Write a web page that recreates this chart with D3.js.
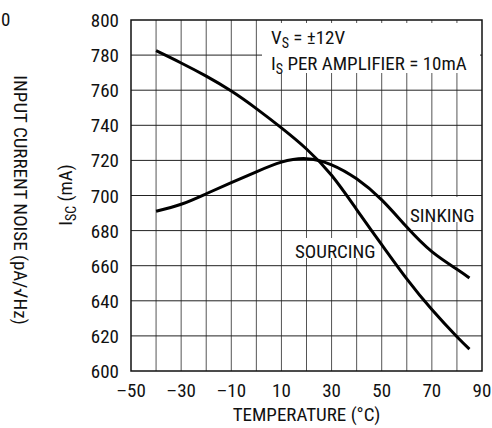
<!DOCTYPE html>
<html>
<head>
<meta charset="utf-8">
<script src="https://cdn.jsdelivr.net/npm/d3@7"></script>
<style>
  body { margin: 0; background: #fff; }
  svg text { font-family: "Liberation Sans Narrow", "Roboto Condensed", "Arial Narrow", sans-serif; fill: #111; }
</style>
</head>
<body>
<div id="chart"></div>
<script>
// temperature (°C) and short-circuit current (mA)
const sourcingTemp = [-40, -30, -20, -10, 0, 10, 20, 30, 40, 50, 60, 70, 80, 85];
const sourcingIsc  = [782.5, 775.5, 768, 759.5, 749.5, 738.5, 726.5, 711.5, 692, 672, 652.5, 635, 619.5, 612.5];
const sinkingTemp  = [-40, -30, -20, -10, 0, 10, 20, 30, 40, 50, 60, 70, 80, 85];
const sinkingIsc   = [691, 695, 701, 707.3, 713.5, 719, 721, 717.5, 709.5, 697.5, 682, 668, 658, 653];

const xTickLabels = [-50, -30, -10, 10, 30, 50, 70, 90];
const yTickLabels = [600, 620, 640, 660, 680, 700, 720, 740, 760, 780, 800];

const width = 492, height = 428;
const fs = 19, sub = 14;

const svg = d3.select("#chart").append("svg")
  .attr("width", width)
  .attr("height", height);

const x = d3.scaleLinear().domain([-50, 90]).range([131, 482]);
const y = d3.scaleLinear().domain([600, 800]).range([371, 20]);

// grid
const grid = svg.append("g");
grid.selectAll("line.v")
  .data(d3.range(-40, 90, 10))
  .enter().append("line")
  .attr("x1", d => x(d)).attr("x2", d => x(d))
  .attr("y1", y(800)).attr("y2", y(600))
  .attr("stroke", "#555").attr("stroke-width", 1);
grid.selectAll("line.h")
  .data(d3.range(620, 800, 20))
  .enter().append("line")
  .attr("x1", x(-50)).attr("x2", x(90))
  .attr("y1", d => y(d)).attr("y2", d => y(d))
  .attr("stroke", "#222").attr("stroke-width", 1);

// white boxes behind labels
svg.append("rect").attr("x", 262).attr("y", 23).attr("width", 218).attr("height", 50).attr("fill", "#fff");
svg.append("rect").attr("x", 408).attr("y", 197).attr("width", 73).attr("height", 25).attr("fill", "#fff");
svg.append("rect").attr("x", 292).attr("y", 238).attr("width", 86).attr("height", 20).attr("fill", "#fff");

// frame
svg.append("rect")
  .attr("x", x(-50)).attr("y", y(800))
  .attr("width", x(90) - x(-50)).attr("height", y(600) - y(800))
  .attr("fill", "none").attr("stroke", "#111").attr("stroke-width", 1.5);

// curves
const line = d3.line()
  .x(d => x(d[0])).y(d => y(d[1]))
  .curve(d3.curveNatural);

svg.append("path")
  .datum(d3.zip(sourcingTemp, sourcingIsc))
  .attr("d", line)
  .attr("fill", "none").attr("stroke", "#000").attr("stroke-width", 3);
svg.append("path")
  .datum(d3.zip(sinkingTemp, sinkingIsc))
  .attr("d", line)
  .attr("fill", "none").attr("stroke", "#000").attr("stroke-width", 3);

// tick labels
svg.selectAll("text.yt")
  .data(yTickLabels)
  .enter().append("text")
  .attr("x", 119).attr("y", d => y(d) + 7)
  .attr("text-anchor", "end")
  .attr("font-size", fs)
  .text(d => d);

svg.selectAll("text.xt")
  .data(xTickLabels)
  .enter().append("text")
  .attr("x", d => x(d)).attr("y", 397)
  .attr("text-anchor", "middle")
  .attr("font-size", fs)
  .text(d => d < 0 ? "\u2013" + Math.abs(d) : d);

// axis titles
svg.append("text")
  .attr("x", x(20)).attr("y", 421)
  .attr("text-anchor", "middle").attr("font-size", fs)
  .text("TEMPERATURE (\u00B0C)");

const yTitle = svg.append("text")
  .attr("transform", "translate(72,195) rotate(-90)")
  .attr("text-anchor", "middle").attr("font-size", fs);
yTitle.append("tspan").text("I");
yTitle.append("tspan").attr("font-size", sub).attr("dy", 4).text("SC");
yTitle.append("tspan").attr("dy", -4).text(" (mA)");

// leftover label from neighbouring chart
svg.append("text")
  .attr("transform", "translate(14,200) rotate(90)")
  .attr("text-anchor", "middle").attr("font-size", fs)
  .text("INPUT CURRENT NOISE (pA/\u221AHz)");
svg.append("text")
  .attr("x", 1).attr("y", 26)
  .attr("font-size", fs)
  .text("0");

// annotations
const a1 = svg.append("text").attr("x", 271).attr("y", 44).attr("font-size", fs);
a1.append("tspan").text("V");
a1.append("tspan").attr("font-size", sub).attr("dy", 4).text("S");
a1.append("tspan").attr("dy", -4).text(" = \u00B112V");

const a2 = svg.append("text").attr("x", 271).attr("y", 70).attr("font-size", fs);
a2.append("tspan").text("I");
a2.append("tspan").attr("font-size", sub).attr("dy", 4).text("S");
a2.append("tspan").attr("dy", -4).text(" PER AMPLIFIER = 10mA");

svg.append("text").attr("x", 410).attr("y", 222).attr("font-size", fs).text("SINKING");
svg.append("text").attr("x", 295).attr("y", 258).attr("font-size", fs).text("SOURCING");
</script>
</body>
</html>
